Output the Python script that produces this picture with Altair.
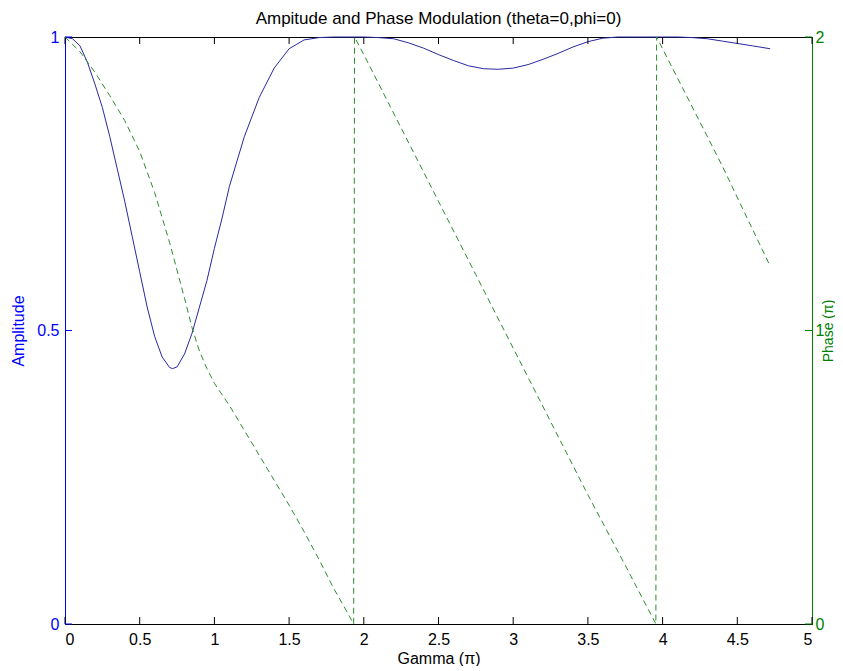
import altair as alt
import pandas as pd

# ---------------- data ----------------
AMP_X = [0, 0.05, 0.1, 0.15, 0.2, 0.25, 0.3, 0.35, 0.4, 0.45,
         0.5, 0.55, 0.6, 0.65, 0.7, 0.72, 0.75, 0.8, 0.85, 0.9,
         0.95, 1.0, 1.05, 1.1, 1.2, 1.3, 1.4, 1.5, 1.6, 1.7,
         1.8, 1.9, 2.0, 2.1, 2.2, 2.3, 2.4, 2.5, 2.6, 2.7,
         2.8, 2.9, 3.0, 3.1, 3.2, 3.3, 3.4, 3.5, 3.6, 3.7,
         3.8, 3.9, 4.0, 4.1, 4.2, 4.3, 4.4, 4.5, 4.6, 4.72]
AMP = [1.0, 0.997, 0.985, 0.957, 0.92, 0.88, 0.83, 0.775, 0.72, 0.66,
       0.6, 0.54, 0.49, 0.455, 0.437, 0.435, 0.438, 0.46, 0.495, 0.54,
       0.585, 0.64, 0.69, 0.745, 0.83, 0.897, 0.947, 0.98, 0.995, 0.999,
       1.0, 1.0, 1.0, 0.999, 0.997, 0.99, 0.981, 0.97, 0.96, 0.951,
       0.946, 0.945, 0.947, 0.953, 0.962, 0.972, 0.983, 0.992, 0.998, 1.0,
       1.0, 1.0, 1.0, 1.0, 0.999, 0.997, 0.993, 0.989, 0.985, 0.98]

PH_X = [0, 0.1, 0.2, 0.3, 0.4, 0.5, 0.6, 0.7, 0.8, 0.85, 0.9, 0.95,
        1.0, 1.1, 1.2, 1.3, 1.4, 1.5, 1.6, 1.7, 1.8, 1.9,
        1.932, 1.938, 2.0, 2.25, 2.5, 2.75, 3.0, 3.25, 3.5, 3.75,
        3.955, 3.96, 4.1, 4.25, 4.4, 4.55, 4.71]
PH = [2.0, 1.95, 1.88, 1.80, 1.715, 1.61, 1.47, 1.30, 1.11, 1.01, 0.93, 0.87,
      0.82, 0.745, 0.66, 0.575, 0.49, 0.405, 0.315, 0.22, 0.12, 0.03,
      0.0, 2.0, 1.94, 1.69, 1.44, 1.19, 0.94, 0.69, 0.44, 0.20,
      0.0, 2.0, 1.86, 1.71, 1.56, 1.40, 1.23]

X_TICKS = [0, 0.5, 1, 1.5, 2, 2.5, 3, 3.5, 4, 4.5, 5]
AMP_TICKS = [0, 0.5, 1]
PH_TICKS = [0, 1, 2]

TITLE = "Ampitude and Phase Modulation (theta=0,phi=0)"
X_TITLE = "Gamma (\u03c0)"
AMP_TITLE = "Amplitude"
PH_TITLE = "Phase (\u03c0)"

# ---------------- styling ----------------
W, H = 747, 587
FONT = "Liberation Sans"
FS = 16
BLUE_AX = "#0000ff"
GREEN_AX = "#008000"
BLUE_LINE = "#2828a0"
GREEN_LINE = "#2e8b2e"
TICK = 7

amp_df = pd.DataFrame({"x": AMP_X, "y": AMP, "i": range(len(AMP))})
ph_df = pd.DataFrame({"x": PH_X, "y": PH, "i": range(len(PH))})
xt_df = pd.DataFrame({"x": X_TICKS})
at_df = pd.DataFrame({"y": AMP_TICKS})
pt_df = pd.DataFrame({"y": PH_TICKS})

common = dict(ticks=False, grid=False, labelFont=FONT, titleFont=FONT,
              labelFontSize=FS, titleFontWeight="normal", domainWidth=1)

X = alt.X("x:Q", scale=alt.Scale(domain=[0, 5], nice=False, zero=False),
          axis=alt.Axis(values=X_TICKS, format="~g", title=X_TITLE,
                        domainColor="black", labelColor="black", titleColor="black",
                        labelPadding=7, titlePadding=3, titleFontSize=FS, **common))
YA = alt.Y("y:Q", scale=alt.Scale(domain=[0, 1], nice=False, zero=False),
           axis=alt.Axis(orient="left", values=AMP_TICKS, format="~g", title=AMP_TITLE,
                         domainColor=BLUE_AX, labelColor=BLUE_AX,
                         titleColor=BLUE_AX, labelPadding=6, titlePadding=10,
                         titleFontSize=FS, **common))
YP = alt.Y("y:Q", scale=alt.Scale(domain=[0, 2], nice=False, zero=False),
           axis=alt.Axis(orient="right", values=PH_TICKS, format="~g", title=PH_TITLE,
                         domainColor=GREEN_AX, labelColor=GREEN_AX,
                         titleColor=GREEN_AX, labelPadding=3,
                         titleAngle=270, titleX=16, titleY=H / 2,
                         titleAlign="center", titleBaseline="middle",
                         titleFontSize=14, **common))

amp_line = alt.Chart(amp_df).mark_line(color=BLUE_LINE, strokeWidth=1).encode(
    x=X, y=YA, order="i:Q")
xt_bottom = alt.Chart(xt_df).mark_rule(color="black", strokeWidth=1).encode(
    x=X, y=alt.value(H), y2=alt.value(H - TICK))
xt_top = alt.Chart(xt_df).mark_rule(color="black", strokeWidth=1).encode(
    x=X, y=alt.value(0), y2=alt.value(TICK))
amp_ticks = alt.Chart(at_df).mark_rule(color=BLUE_AX, strokeWidth=1).encode(
    y=YA, x=alt.value(0), x2=alt.value(TICK))

ph_line = alt.Chart(ph_df).mark_line(color=GREEN_LINE, strokeWidth=1,
                                     strokeDash=[6, 4]).encode(
    x=X, y=YP, order="i:Q")
ph_ticks = alt.Chart(pt_df).mark_rule(color=GREEN_AX, strokeWidth=1).encode(
    y=YP, x=alt.value(W - TICK), x2=alt.value(W))

left = alt.layer(amp_line, amp_ticks, xt_bottom, xt_top)
right = alt.layer(ph_line, ph_ticks)

chart = alt.layer(left, right).resolve_scale(y="independent").properties(
    width=W, height=H,
    title=alt.TitleParams(TITLE, font=FONT, fontSize=17, fontWeight="normal",
                          color="black", anchor="middle", offset=1),
    padding={"left": 57, "top": 29, "right": 23, "bottom": 42},
    autosize=alt.AutoSizeParams(type="none"),
    background="white",
).configure_view(stroke="black", strokeWidth=1)

chart.save("out.html", embed_options={"renderer": "svg", "actions": False})
